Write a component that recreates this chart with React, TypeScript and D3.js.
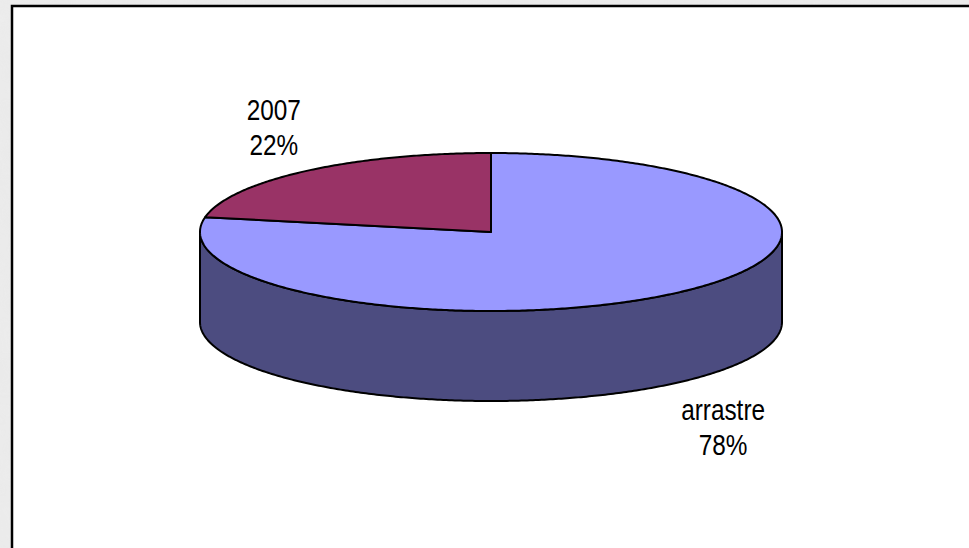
import { useEffect, useRef } from "react";
import * as d3 from "d3";

const labels = ["arrastre", "2007"];
const values = [78, 22];
const topColors = ["#9999ff", "#993366"];
const sideColors = ["#4c4c80", "#4d1a33"];

export default function App() {
  const ref = useRef<SVGSVGElement>(null);

  useEffect(() => {
    if (!ref.current) return;
    const svg = d3.select(ref.current);
    svg.selectAll("*").remove();

    const W = 969, H = 548;
    const cx = 491, cy = 232, rx = 291, ry = 79, depth = 90;

    // marble-ish backdrop
    const defs = svg.append("defs");
    const f = defs.append("filter").attr("id", "marble").attr("x", 0).attr("y", 0).attr("width", 1).attr("height", 1);
    f.append("feTurbulence").attr("type", "fractalNoise").attr("baseFrequency", 0.02).attr("numOctaves", 3).attr("seed", 4);
    f.append("feColorMatrix").attr("type", "matrix")
      .attr("values", "0 0 0 0 0.88  0 0 0 0 0.88  0 0 0 0 0.88  0.6 0 0 0 0");
    svg.append("rect").attr("width", W).attr("height", H).attr("fill", "#e9e9e9");
    svg.append("rect").attr("width", W).attr("height", H).attr("filter", "url(#marble)").attr("opacity", 0.8);

    // chart area
    svg.append("rect")
      .attr("x", 12).attr("y", 6).attr("width", W).attr("height", H)
      .attr("fill", "#fff").attr("stroke", "#000").attr("stroke-width", 2.5);

    const pie = d3.pie<number>().sort(null).startAngle(0).endAngle(2 * Math.PI);
    const arcs = pie(values);

    const pt = (a: number, k = 1, dy = 0): [number, number] =>
      [cx + rx * k * Math.sin(a), cy - ry * k * Math.cos(a) + dy];

    const arcPts = (a0: number, a1: number, dy = 0) => {
      const n = Math.max(2, Math.ceil(Math.abs(a1 - a0) / 0.01));
      return d3.range(n + 1).map(i => pt(a0 + (a1 - a0) * (i / n), 1, dy));
    };
    const line = d3.line();

    // front sides
    arcs.forEach((d, i) => {
      const s = Math.max(d.startAngle, Math.PI / 2);
      const e = Math.min(d.endAngle, 1.5 * Math.PI);
      if (e <= s) return;
      const pts = [...arcPts(s, e), ...arcPts(e, s, depth)];
      svg.append("path")
        .attr("d", line(pts) + "Z")
        .attr("fill", sideColors[i])
        .attr("stroke", "#000").attr("stroke-width", 2).attr("stroke-linejoin", "round");
    });

    // top faces
    arcs.forEach((d, i) => {
      const pts: [number, number][] = [[cx, cy], ...arcPts(d.startAngle, d.endAngle)];
      svg.append("path")
        .attr("d", line(pts) + "Z")
        .attr("fill", topColors[i])
        .attr("stroke", "#000").attr("stroke-width", 2).attr("stroke-linejoin", "round");
    });

    // labels
    arcs.forEach((d, i) => {
      const mid = (d.startAngle + d.endAngle) / 2;
      const front = Math.cos(mid) < 0;
      const [ax] = pt(mid, 1.025);
      const ay = cy - ry * 1.72 * Math.cos(mid) + (front ? depth : 0);
      const g = svg.append("g");
      const t = g.append("text")
        .attr("text-anchor", "middle")
        .attr("font-family", "Liberation Sans, Arial, sans-serif")
        .attr("font-size", 29)
        .attr("fill", "#000");
      t.append("tspan").attr("x", 0).attr("y", -7).text(labels[i]);
      t.append("tspan").attr("x", 0).attr("y", 28).text(`${values[i]}%`);
      const sx = 0.84;
      const bb = (g.node() as SVGGElement).getBBox();
      const half = (bb.width * sx) / 2;
      const x = ax + Math.sign(Math.sin(mid)) * half;
      g.attr("transform", `translate(${x},${ay}) scale(${sx},1)`);
    });
  }, []);

  return (
    <>
      <style>{`body{margin:0}`}</style>
      <svg ref={ref} width={969} height={548} style={{ display: "block" }} />
    </>
  );
}
